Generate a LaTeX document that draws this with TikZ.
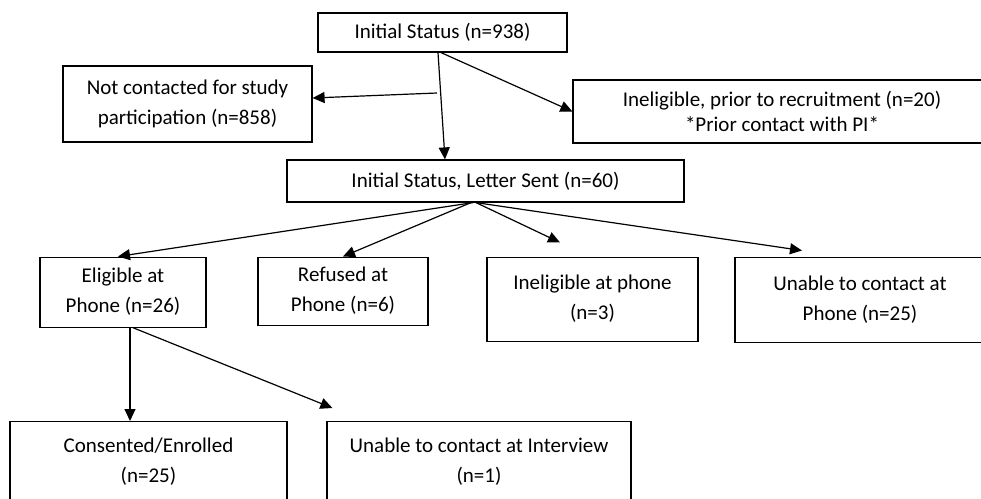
\documentclass[tikz,border=0pt]{standalone}
\usepackage{fontspec}
\setmainfont{Carlito}
\usetikzlibrary{arrows.meta}

\begin{document}
\begin{tikzpicture}[x=1pt,y=-1pt,
  flowbox/.style={draw,line width=1.2pt,align=center,inner sep=0pt,font=\fontsize{21}{30}\selectfont},
  flowarrow/.style={line width=1.2pt,-{Triangle[length=12pt,width=11pt]}}]
\useasboundingbox (0,0) rectangle (981,498);
% top level
\node [flowbox,minimum width=249,minimum height=39] (init) at (442.5,32.5) {Initial Status (n=938)};
\node [flowbox,minimum width=249,minimum height=76] (notc) at (187.5,104) {Not contacted for study\\participation (n=858)};
\node [flowbox,minimum width=418,minimum height=63,font=\fontsize{21}{25}\selectfont] (inel) at (782,111.5) {Ineligible, prior to recruitment (n=20)\\*Prior contact with PI*};
\node [flowbox,minimum width=397,minimum height=42] (letter) at (485.5,181) {Initial Status, Letter Sent (n=60)};
% phone contact
\foreach \nm/\cx/\bw/\bh/\txt in {elig/123/166/70/{Eligible at\\Phone (n=26)},ref/343/170/68/{Refused at\\Phone (n=6)},inph/592.5/211/84/{Ineligible at phone\\(n=3)},unph/860/250/85/{Unable to contact at\\Phone (n=25)}}
  { \node [flowbox,minimum width=\bw,minimum height=\bh,anchor=north] (\nm) at (\cx,256.5) {\txt};}
% interview
\node [flowbox,minimum width=277,minimum height=80,anchor=north] (cons) at (148.5,421) {Consented/Enrolled\\(n=25)};
\node [flowbox,minimum width=304,minimum height=80,anchor=north] (unint) at (479,421) {Unable to contact at Interview\\(n=1)};
\coordinate (split) at (437,93);
\draw [flowarrow] ([xshift=-4.5pt]init.south) -- ([xshift=-40.5pt]letter.north);
\draw [flowarrow] (split) -- ([yshift=6pt]notc.east);
\draw [flowarrow] ([xshift=-1.5pt]init.south) -- (inel.west);
\draw [flowarrow] ([xshift=-12.5pt]letter.south) -- ([xshift=-5pt]elig.north);
\draw [flowarrow] ([xshift=-14.5pt]letter.south) -- (ref.north);
\draw [flowarrow] ([xshift=-9.5pt]letter.south) -- ([xshift=-32.5pt,yshift=14pt]inph.north);
\draw [flowarrow] ([xshift=-9.5pt]letter.south) -- ([xshift=-58pt,yshift=6pt]unph.north);
\draw [flowarrow] ([xshift=7pt]elig.south) -- ([xshift=-18.5pt]cons.north);
\draw [flowarrow] ([xshift=10pt]elig.south) -- ([xshift=6pt,yshift=13pt]unint.north west);
\end{tikzpicture}
\end{document}
